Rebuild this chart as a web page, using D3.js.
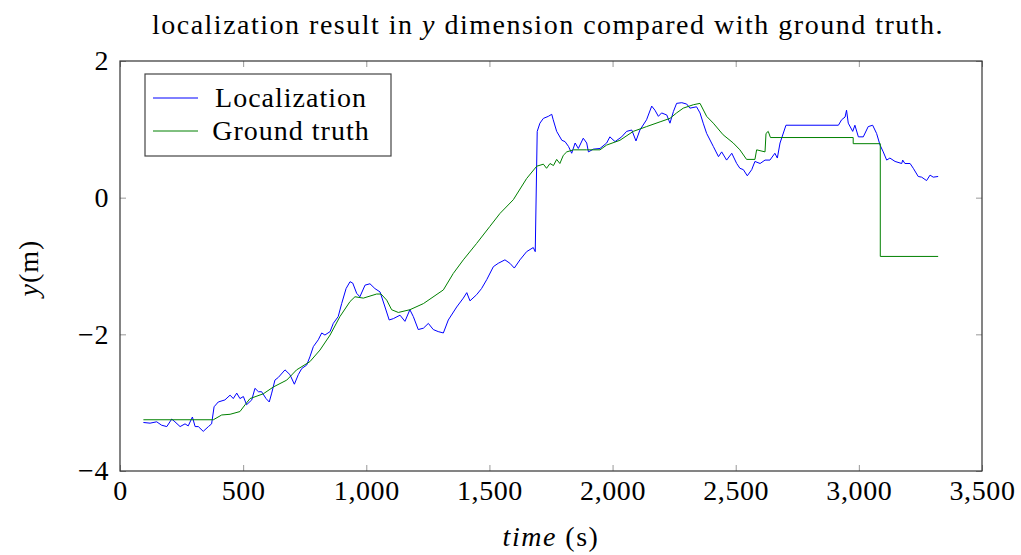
<!DOCTYPE html>
<html>
<head>
<meta charset="utf-8">
<script src="https://cdn.jsdelivr.net/npm/d3@7"></script>
<style>
  body { margin: 0; background: #fff; }
  svg text { font-family: "Times New Roman", "Liberation Serif", "DejaVu Serif", serif; fill: #000; }
</style>
</head>
<body>
<div id="app"></div>
<script>
// [time (s), y (m)]
const localization = [
  [95,-3.29],[122,-3.30],[149,-3.28],[169,-3.33],[190,-3.35],[210,-3.24],[223,-3.28],[244,-3.35],
  [264,-3.31],[277,-3.34],[294,-3.21],[305,-3.35],[318,-3.35],[338,-3.42],[359,-3.35],[372,-3.31],
  [382,-3.06],[399,-2.99],[426,-2.96],[447,-2.89],[460,-2.94],[474,-2.86],[487,-2.94],[501,-2.91],
  [514,-3.03],[535,-2.96],[548,-2.79],[562,-2.84],[575,-2.84],[593,-2.94],[606,-2.99],[616,-2.86],
  [629,-2.67],[643,-2.63],[670,-2.52],[690,-2.59],[708,-2.73],[724,-2.59],[738,-2.50],[758,-2.45],
  [771,-2.33],[785,-2.18],[805,-2.08],[819,-1.98],[832,-2.01],[853,-1.96],[866,-1.84],[886,-1.74],
  [900,-1.55],[918,-1.33],[934,-1.23],[945,-1.25],[961,-1.40],[974,-1.45],[995,-1.28],[1015,-1.26],
  [1035,-1.33],[1056,-1.38],[1076,-1.60],[1093,-1.79],[1110,-1.77],[1137,-1.72],[1157,-1.81],
  [1177,-1.64],[1191,-1.74],[1211,-1.93],[1232,-1.91],[1252,-1.84],[1272,-1.93],[1292,-1.96],
  [1313,-1.98],[1333,-1.79],[1367,-1.60],[1394,-1.47],[1408,-1.39],[1421,-1.51],[1448,-1.42],
  [1468,-1.33],[1489,-1.20],[1516,-1.01],[1536,-0.96],[1563,-0.91],[1583,-0.96],[1601,-1.03],
  [1624,-0.91],[1651,-0.79],[1678,-0.73],[1686,-0.79],[1694,0.97],[1705,1.09],[1719,1.16],
  [1739,1.19],[1753,1.22],[1759,1.14],[1773,0.97],[1794,0.84],[1807,0.82],[1821,0.75],[1834,0.65],
  [1848,0.80],[1861,0.72],[1881,0.87],[1895,0.80],[1902,0.67],[1922,0.71],[1949,0.72],[1976,0.80],
  [1989,0.89],[2010,0.82],[2037,0.89],[2057,0.97],[2078,0.99],[2095,0.83],[2111,0.99],[2138,1.14],
  [2159,1.34],[2172,1.28],[2186,1.19],[2199,1.24],[2220,1.21],[2233,1.09],[2247,1.26],[2260,1.38],
  [2281,1.39],[2301,1.37],[2314,1.31],[2341,1.33],[2355,1.24],[2368,1.09],[2382,0.94],[2409,0.75],
  [2430,0.60],[2443,0.67],[2463,0.55],[2484,0.65],[2504,0.50],[2517,0.43],[2531,0.41],[2547,0.32],
  [2565,0.41],[2578,0.53],[2599,0.50],[2619,0.55],[2639,0.55],[2659,0.65],[2669,0.58],[2680,0.80],
  [2704,1.06],[2917,1.06],[2930,1.14],[2944,1.18],[2950,1.28],[2957,1.09],[2975,0.97],[2984,1.06],
  [2998,0.89],[3018,0.89],[3038,1.04],[3056,1.06],[3072,0.94],[3086,0.77],[3099,0.67],[3113,0.55],
  [3126,0.58],[3147,0.53],[3174,0.50],[3178,0.55],[3187,0.50],[3208,0.50],[3221,0.43],[3241,0.31],
  [3255,0.30],[3275,0.25],[3289,0.33],[3302,0.30],[3322,0.31]
];

const groundTruth = [
  [95,-3.25],[379,-3.25],[413,-3.18],[447,-3.17],[487,-3.13],[508,-3.03],[528,-2.94],[582,-2.87],
  [623,-2.77],[677,-2.67],[717,-2.52],[771,-2.40],[812,-2.23],[853,-2.01],[893,-1.74],[934,-1.52],
  [954,-1.45],[988,-1.47],[1042,-1.41],[1060,-1.41],[1083,-1.50],[1103,-1.64],[1130,-1.68],
  [1177,-1.64],[1232,-1.55],[1313,-1.35],[1353,-1.11],[1394,-0.91],[1448,-0.67],[1502,-0.42],
  [1543,-0.23],[1597,-0.03],[1651,0.28],[1692,0.46],[1719,0.49],[1732,0.43],[1746,0.50],[1760,0.47],
  [1773,0.56],[1786,0.50],[1800,0.62],[1814,0.67],[1841,0.70],[1895,0.70],[1949,0.70],[1976,0.77],
  [2030,0.84],[2084,0.97],[2138,1.04],[2193,1.11],[2233,1.16],[2260,1.24],[2287,1.31],[2328,1.36],
  [2355,1.38],[2382,1.19],[2409,1.09],[2449,0.92],[2490,0.80],[2517,0.70],[2544,0.56],[2578,0.56],
  [2585,0.70],[2619,0.67],[2623,0.94],[2632,0.97],[2641,0.88],[2977,0.88],[2977,0.79],[3087,0.79],
  [3087,-0.86],[3322,-0.86]
];

const xTicks = [0, 500, 1000, 1500, 2000, 2500, 3000, 3500];
const yTicks = [-4, -2, 0, 2];
const seriesNames = ["Localization", "Ground truth"];
const seriesColors = ["#0000ff", "#008000"];

const chart = () => {
  const width = 1021;
  const height = 555;
  const marginTop = 61;
  const marginRight = 39;
  const marginBottom = 84;
  const marginLeft = 120;
  const fontSize = 28;

  const x = d3.scaleLinear()
    .domain([0, 3500])
    .range([marginLeft, width - marginRight]);

  const y = d3.scaleLinear()
    .domain([-4, 2])
    .range([height - marginBottom, marginTop]);

  const svg = d3.create("svg").attr("width", width).attr("height", height);

  const fmt = (d) => d3.format(",")(d).replace("-", "\u2212");

  // pgfplots style: ticks on all four sides, pointing inward
  const tickLen = 6;
  const tickStyle = (g) => {
    g.select(".domain").remove();
    g.selectAll(".tick line").attr("stroke", "#999");
    g.selectAll(".tick text")
      .attr("font-size", fontSize)
      .attr("font-family", null)
      .attr("letter-spacing", 0.6)
      .attr("fill", "#000");
  };

  svg.append("g")
    .attr("transform", `translate(0,${height - marginBottom})`)
    .call(d3.axisBottom(x).tickValues(xTicks).tickSize(-tickLen).tickPadding(9).tickFormat(fmt))
    .call(tickStyle);

  svg.append("g")
    .attr("transform", `translate(0,${marginTop})`)
    .call(d3.axisTop(x).tickValues(xTicks).tickSize(-tickLen).tickFormat(""))
    .call(tickStyle);

  svg.append("g")
    .attr("transform", `translate(${marginLeft},0)`)
    .call(d3.axisLeft(y).tickValues(yTicks).tickSize(-tickLen).tickPadding(11).tickFormat(fmt))
    .call(tickStyle);

  svg.append("g")
    .attr("transform", `translate(${width - marginRight},0)`)
    .call(d3.axisRight(y).tickValues(yTicks).tickSize(-tickLen).tickFormat(""))
    .call(tickStyle);

  const line = d3.line()
    .x((d) => x(d[0]))
    .y((d) => y(d[1]));

  [localization, groundTruth].forEach((data, i) => {
    svg.append("path")
      .datum(data)
      .attr("fill", "none")
      .attr("stroke", seriesColors[i])
      .attr("stroke-width", 1)
      .attr("stroke-linejoin", "round")
      .attr("d", line);
  });

  // frame
  svg.append("rect")
    .attr("x", marginLeft)
    .attr("y", marginTop)
    .attr("width", width - marginLeft - marginRight)
    .attr("height", height - marginTop - marginBottom)
    .attr("fill", "none")
    .attr("stroke", "#333")
    .attr("stroke-width", 1.2);

  // legend
  const legend = svg.append("g");
  legend.append("rect")
    .attr("x", 145).attr("y", 74)
    .attr("width", 246).attr("height", 82)
    .attr("fill", "#fff")
    .attr("stroke", "#444")
    .attr("stroke-width", 1.2);
  seriesNames.forEach((name, i) => {
    const ly = 98 + i * 33;
    legend.append("line")
      .attr("x1", 153).attr("x2", 198)
      .attr("y1", ly).attr("y2", ly)
      .attr("stroke", seriesColors[i]);
    legend.append("text")
      .attr("x", 291).attr("y", ly + 9)
      .attr("text-anchor", "middle")
      .attr("font-size", fontSize)
      .attr("letter-spacing", 1)
      .text(name);
  });

  // title
  const title = svg.append("text")
    .attr("x", 548).attr("y", 34)
    .attr("text-anchor", "middle")
    .attr("font-size", fontSize)
    .attr("letter-spacing", 1.5);
  title.append("tspan").text("localization result in ");
  title.append("tspan").attr("font-style", "italic").text("y");
  title.append("tspan").text(" dimension compared with ground truth.");

  // axis labels
  const xl = svg.append("text")
    .attr("x", 551).attr("y", 546)
    .attr("text-anchor", "middle")
    .attr("font-size", fontSize)
    .attr("letter-spacing", 1.5);
  xl.append("tspan").attr("font-style", "italic").text("time");
  xl.append("tspan").text(" (s)");

  const yl = svg.append("text")
    .attr("transform", "translate(38,268) rotate(-90)")
    .attr("text-anchor", "middle")
    .attr("font-size", fontSize)
    .attr("letter-spacing", 1);
  yl.append("tspan").attr("font-style", "italic").text("y");
  yl.append("tspan").text("(m)");

  return svg.node();
};

d3.select("#app").append(chart);
</script>
</body>
</html>
